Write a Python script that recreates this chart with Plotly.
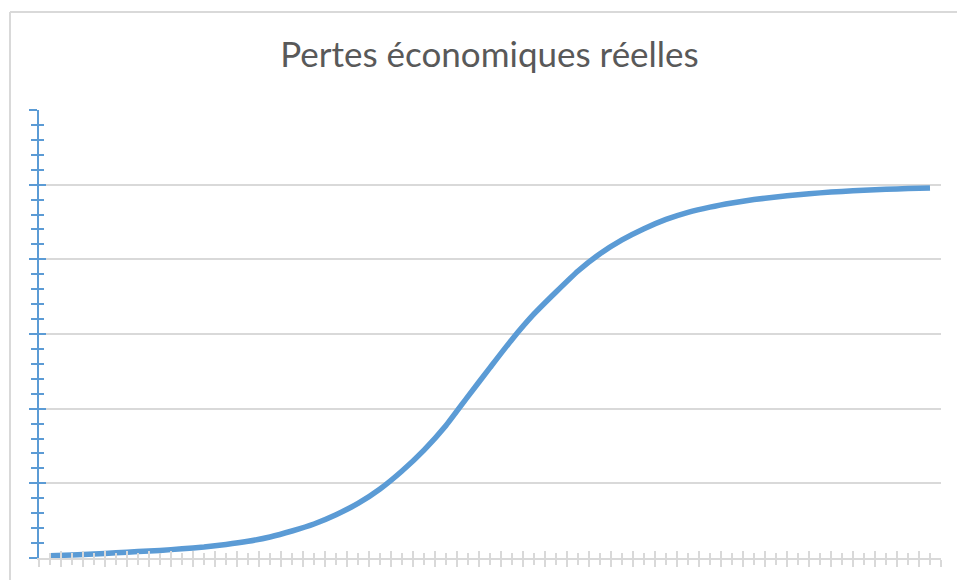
import plotly.graph_objects as go

# Chart data (arbitrary units 0-120)
periods = list(range(41))
pertes = [
    0.62, 0.80, 1.07, 1.38, 1.72, 2.04, 2.46, 2.95, 3.62, 4.47,
    5.63, 7.23, 9.11, 11.60, 14.60, 18.48, 23.30, 28.90, 35.50, 43.30,
    51.00, 58.55, 65.36, 71.25, 76.88, 81.50, 85.20, 88.20, 90.70, 92.60,
    94.00, 95.10, 96.00, 96.70, 97.30, 97.80, 98.20, 98.50, 98.75, 98.95,
    99.10,
]
titre = "Pertes économiques réelles"

blue = "#5B9BD5"
grey = "#D9D9D9"

fig = go.Figure()

# dummy trace so the overlay axes (inner half of the cross ticks) get drawn
fig.add_trace(go.Scatter(x=periods, y=pertes, xaxis="x2", yaxis="y2", mode="lines",
                         opacity=0, hoverinfo="skip", showlegend=False))

fig.add_trace(go.Scatter(
    x=periods, y=pertes, mode="lines",
    line=dict(color=blue, width=5.5, shape="spline", smoothing=0.5),
    showlegend=False,
))

xr = [-0.5, 40.5]
yr = [0, 120]

W, H = 957, 580
L, T = 39, 110
PW, PH = 902, 448

# chart border: only left and top edges are inside the picture
bx0, bx1 = (10 - 39) / PW, (1000 - 39) / PW
by0, by1 = (558 - 700) / PH, (558 - 12) / PH
border = [
    dict(type="line", xref="paper", yref="paper", x0=bx0, x1=bx0, y0=by0, y1=by1,
         line=dict(color=grey, width=2), layer="below"),
    dict(type="line", xref="paper", yref="paper", x0=bx0, x1=bx1, y0=by1, y1=by1,
         line=dict(color=grey, width=2), layer="below"),
]

fig.update_layout(
    width=W, height=H,
    paper_bgcolor="white", plot_bgcolor="white",
    margin=dict(l=L, r=W - L - PW, t=T, b=H - T - PH),
    title=dict(text=titre, x=489.5 / W, xref="container", xanchor="center",
               y=1 - 55 / H, yref="container", yanchor="middle",
               font=dict(family="Lato, Open Sans, sans-serif", size=35, color="#595959")),
    xaxis=dict(range=xr, showgrid=False, zeroline=False, showticklabels=False,
               showline=True, linecolor=grey, linewidth=2,
               ticks="outside", tick0=-0.5, dtick=1, ticklen=7, tickwidth=2, tickcolor=grey,
               minor=dict(ticks="outside", dtick=0.5, tick0=-0.5, ticklen=5, tickwidth=2,
                          tickcolor=grey, showgrid=False)),
    xaxis2=dict(range=xr, overlaying="x", anchor="y", side="bottom", showgrid=False,
                zeroline=False, showticklabels=False, showline=False,
                ticks="inside", tick0=-0.5, dtick=1, ticklen=7, tickwidth=2, tickcolor=grey,
                minor=dict(ticks="inside", dtick=0.5, tick0=-0.5, ticklen=5, tickwidth=2,
                           tickcolor=grey, showgrid=False)),
    yaxis=dict(range=yr, showgrid=True, gridcolor=grey, gridwidth=2, zeroline=False,
               showticklabels=False, showline=True, linecolor=blue, linewidth=2,
               ticks="outside", dtick=20, ticklen=8, tickwidth=2, tickcolor=blue,
               minor=dict(ticks="outside", dtick=4, ticklen=6, tickwidth=2,
                          tickcolor=blue, showgrid=False)),
    yaxis2=dict(range=yr, overlaying="y", anchor="x", side="left", showgrid=False,
                zeroline=False, showticklabels=False, showline=False,
                ticks="inside", dtick=20, ticklen=7, tickwidth=2, tickcolor=blue,
                minor=dict(ticks="inside", dtick=4, ticklen=5, tickwidth=2,
                           tickcolor=blue, showgrid=False)),
    shapes=border,
)

# drop the default 8px page margin and the scrollbars
page_css = ("document.body.style.margin = '0';"
            "document.body.style.overflow = 'hidden';"
            "document.documentElement.style.overflow = 'hidden';")
fig.write_html("out.html", post_script=page_css, config={"displayModeBar": False})
